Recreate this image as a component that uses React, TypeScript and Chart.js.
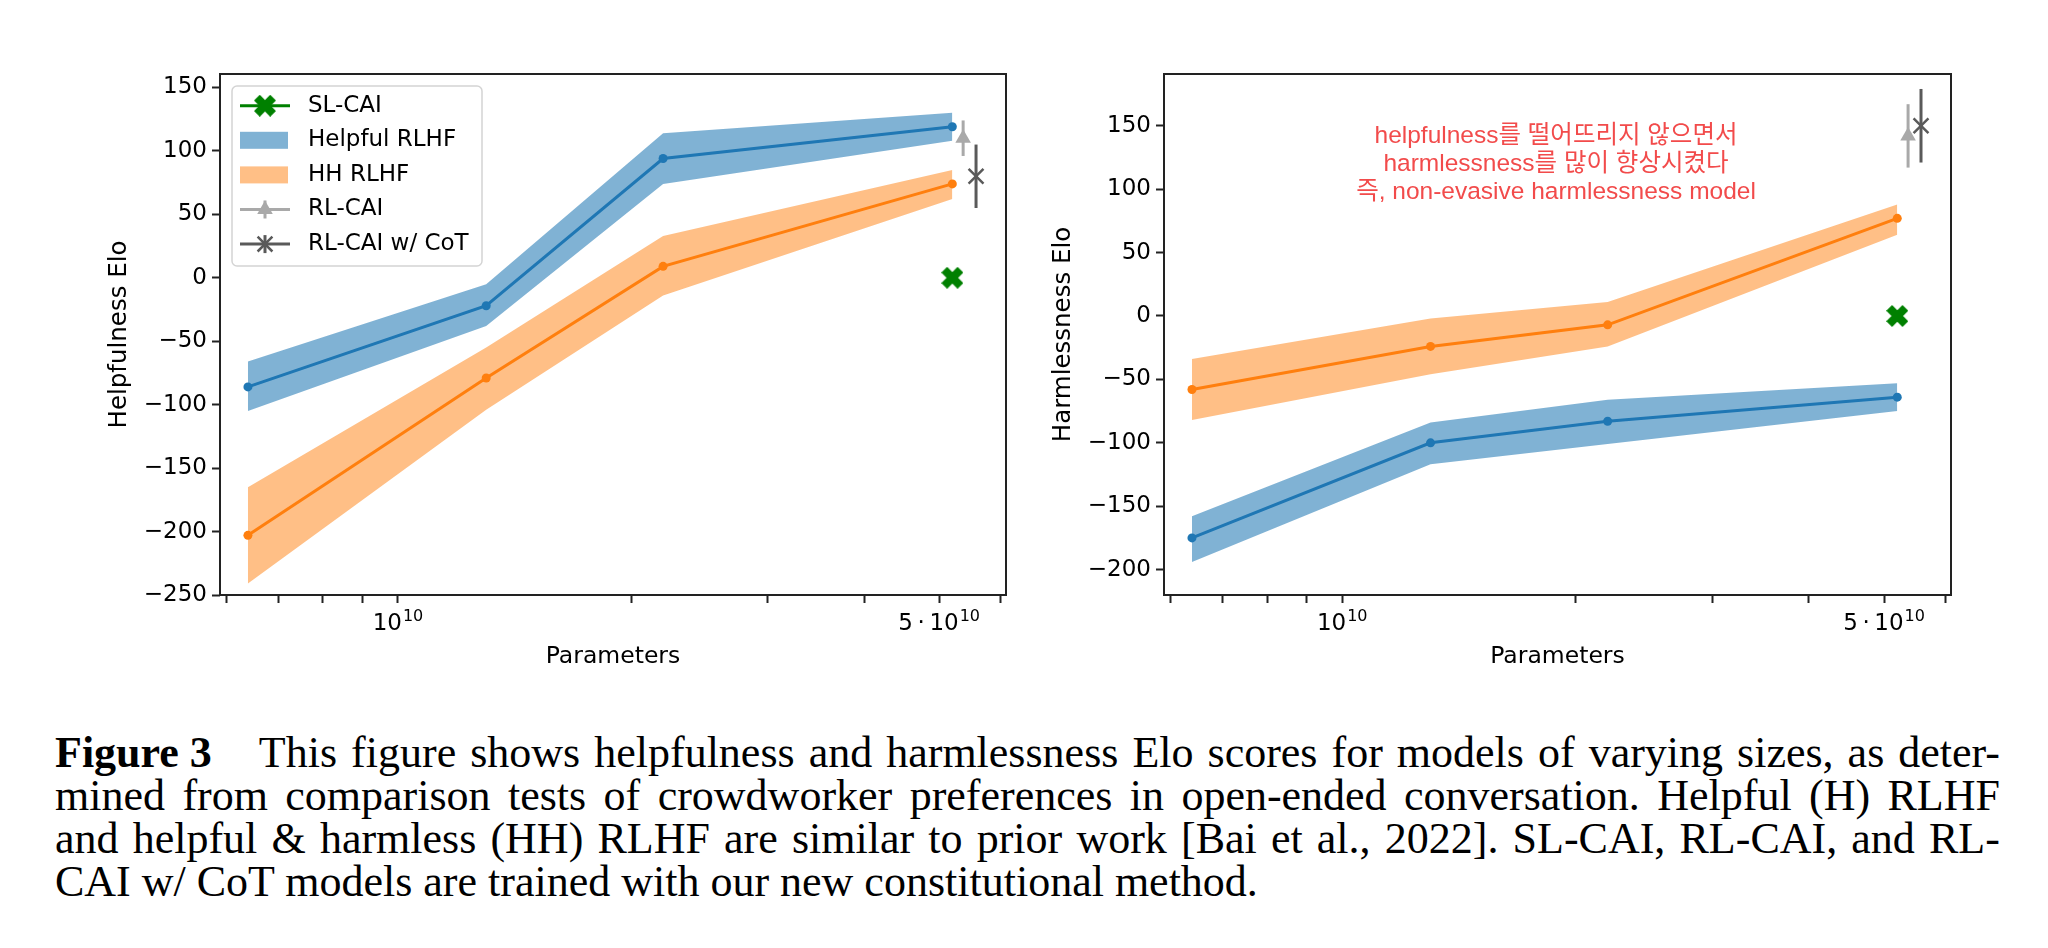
import React, { useEffect, useRef } from "react";
import { Chart, registerables } from "chart.js";

Chart.register(...registerables);

// ---------------- data ----------------
const params = [6.4e9, 1.3e10, 2.2e10, 5.2e10];

const helpfulnessHelpful = [-86, -22, 94, 119];
const helpfulnessHelpfulLow = [-105, -38, 74, 108];
const helpfulnessHelpfulHigh = [-66, -5, 114, 130];
const helpfulnessHH = [-203, -79, 9, 74];
const helpfulnessHHLow = [-241, -104, -14, 62];
const helpfulnessHHHigh = [-165, -55, 33, 85];

const harmlessnessHelpful = [-175, -100, -83, -64];
const harmlessnessHelpfulLow = [-194, -117, -101, -75];
const harmlessnessHelpfulHigh = [-158, -84, -66, -53];
const harmlessnessHH = [-58, -24, -7, 77];
const harmlessnessHHLow = [-82, -46, -24, 64];
const harmlessnessHHHigh = [-34, -2, 11, 88];

// SL-CAI, RL-CAI, RL-CAI w/ CoT
const caiParams = [5.2e10, 5.37e10, 5.58e10];
const caiHelpfulness = [0, 110, 80];
const caiHelpfulnessErr = [0, 14, 25];
const caiHarmlessness = [0, 142, 150];
const caiHarmlessnessErr = [0, 25, 29];

const seriesLabels = ["SL-CAI", "Helpful RLHF", "HH RLHF", "RL-CAI", "RL-CAI w/ CoT"];

const xMinorTicks = [6e9, 7e9, 8e9, 9e9, 2e10, 3e10, 4e10, 6e10];
const xMajorTicks = [1e10, 5e10];
const xMajorBase = ["10", "5\u2009\u00b7\u200910"];
const xMajorExp = ["10", "10"];

const annotationLines = [
  "helpfulness를 떨어뜨리지 않으면서",
  "harmlessness를 많이 향상시켰다",
  "즉, non-evasive harmlessness model",
];

const captionLabel = "Figure 3";
const captionLines = [
  "This figure shows helpfulness and harmlessness Elo scores for models of varying sizes, as deter-",
  "mined from comparison tests of crowdworker preferences in open-ended conversation. Helpful (H) RLHF",
  "and helpful & harmless (HH) RLHF are similar to prior work [Bai et al., 2022]. SL-CAI, RL-CAI, and RL-",
  "CAI w/ CoT models are trained with our new constitutional method.",
];

// ---------------- styles ----------------
const BLUE = "#1f77b4";
const ORANGE = "#ff7f0e";
const BLUE_BAND = "rgba(31,119,180,0.57)";
const ORANGE_BAND = "rgba(255,127,14,0.5)";
const GREEN = "#008000";
const LIGHT_GRAY = "#a9a9a9";
const DARK_GRAY = "#5a5a5a";
const AXIS = "#222222";
const FONT = '"DejaVu Sans", sans-serif';
const X_MIN = 5.89e9;
const X_MAX = 6.1e10;

Chart.defaults.font.family = FONT;
Chart.defaults.color = "#000";

function makeXMarker(size: number, color: string) {
  const c = document.createElement("canvas");
  c.width = size;
  c.height = size;
  const ctx = c.getContext("2d")!;
  const h = size / 2;
  const t = 0.36;
  const pts = [
    [t, t], [t, 1], [-t, 1], [-t, t], [-1, t], [-1, -t],
    [-t, -t], [-t, -1], [t, -1], [t, -t], [1, -t], [1, t],
  ];
  const s = (h * Math.SQRT2) / (1 + t);
  ctx.translate(h, h);
  ctx.rotate(Math.PI / 4);
  ctx.beginPath();
  pts.forEach(([x, y], i) => (i ? ctx.lineTo(x * s, y * s) : ctx.moveTo(x * s, y * s)));
  ctx.closePath();
  ctx.fillStyle = color;
  ctx.fill();
  return c;
}

type PanelSpec = {
  helpful: number[];
  helpfulLow: number[];
  helpfulHigh: number[];
  hh: number[];
  hhLow: number[];
  hhHigh: number[];
  cai: number[];
  caiErr: number[];
  yMin: number;
  yMax: number;
  yTitle: string;
  yTitlePad: number;
  axisWidth: number;
  padRight: number;
  legend: boolean;
  annotation: boolean;
};

const framePlugin = {
  id: "frame",
  afterDatasetsDraw(chart: any) {
    const { ctx, chartArea: a } = chart;
    ctx.save();
    ctx.strokeStyle = AXIS;
    ctx.lineWidth = 2;
    ctx.strokeRect(a.left, a.top, a.right - a.left, a.bottom - a.top);
    ctx.restore();
  },
};

const xLabelPlugin = {
  id: "xSupLabels",
  afterDraw(chart: any) {
    const { ctx, chartArea: a } = chart;
    const xs = chart.scales.x;
    ctx.save();
    ctx.fillStyle = "#000";
    ctx.textBaseline = "alphabetic";
    ctx.textAlign = "left";
    xMajorTicks.forEach((v, i) => {
      const px = xs.getPixelForValue(v);
      ctx.font = `23px ${FONT}`;
      const wb = ctx.measureText(xMajorBase[i]).width;
      ctx.font = `16px ${FONT}`;
      const we = ctx.measureText(xMajorExp[i]).width;
      const x0 = px - (wb + we + 1) / 2;
      ctx.font = `23px ${FONT}`;
      ctx.fillText(xMajorBase[i], x0, a.bottom + 35);
      ctx.font = `16px ${FONT}`;
      ctx.fillText(xMajorExp[i], x0 + wb + 1, a.bottom + 26);
    });
    ctx.restore();
  },
};

function makeLegendPlugin(xMarker: HTMLCanvasElement) {
  return {
    id: "mplLegend",
    afterDraw(chart: any) {
      const ctx = chart.ctx;
      const a = chart.chartArea;
      const bx = a.left + 12, by = a.top + 12, bw = 250, bh = 180;
      ctx.save();
      ctx.beginPath();
      ctx.roundRect(bx, by, bw, bh, 5);
      ctx.fillStyle = "rgba(255,255,255,0.8)";
      ctx.fill();
      ctx.strokeStyle = "#d4d4d4";
      ctx.lineWidth = 1.5;
      ctx.stroke();
      const x0 = bx + 8, x1 = bx + 58, xc = (x0 + x1) / 2, tx = bx + 76;
      const rowY = (i: number) => by + 19.7 + i * 34.6;
      const hline = (y: number, color: string) => {
        ctx.beginPath();
        ctx.moveTo(x0, y);
        ctx.lineTo(x1, y);
        ctx.strokeStyle = color;
        ctx.lineWidth = 3;
        ctx.stroke();
      };
      const vline = (y: number, color: string) => {
        ctx.beginPath();
        ctx.moveTo(xc, y - 9);
        ctx.lineTo(xc, y + 9);
        ctx.strokeStyle = color;
        ctx.lineWidth = 3;
        ctx.stroke();
      };
      // SL-CAI
      let y = rowY(0);
      hline(y, GREEN);
      ctx.drawImage(xMarker, xc - xMarker.width / 2, y - xMarker.height / 2);
      // Helpful RLHF
      y = rowY(1);
      ctx.fillStyle = BLUE_BAND;
      ctx.fillRect(x0, y - 8.5, x1 - x0 - 2, 17);
      // HH RLHF
      y = rowY(2);
      ctx.fillStyle = ORANGE_BAND;
      ctx.fillRect(x0, y - 8.5, x1 - x0 - 2, 17);
      // RL-CAI
      y = rowY(3);
      hline(y, LIGHT_GRAY);
      vline(y, LIGHT_GRAY);
      const r = 9;
      ctx.beginPath();
      for (let k = 0; k < 3; k++) {
        const ang = (k * 2 * Math.PI) / 3;
        const px = xc + Math.sin(ang) * r, py = y - Math.cos(ang) * r;
        k ? ctx.lineTo(px, py) : ctx.moveTo(px, py);
      }
      ctx.closePath();
      ctx.fillStyle = LIGHT_GRAY;
      ctx.fill();
      // RL-CAI w/ CoT
      y = rowY(4);
      hline(y, DARK_GRAY);
      vline(y, DARK_GRAY);
      const d = 7.4;
      ctx.beginPath();
      ctx.moveTo(xc - d, y - d);
      ctx.lineTo(xc + d, y + d);
      ctx.moveTo(xc - d, y + d);
      ctx.lineTo(xc + d, y - d);
      ctx.strokeStyle = DARK_GRAY;
      ctx.lineWidth = 2.5;
      ctx.stroke();
      // labels
      ctx.fillStyle = "#000";
      ctx.font = `23px ${FONT}`;
      ctx.textBaseline = "middle";
      ctx.textAlign = "left";
      seriesLabels.forEach((lab, i) => ctx.fillText(lab, tx, rowY(i)));
      ctx.restore();
    },
  };
}

const annotationPlugin = {
  id: "annotationText",
  afterDraw(chart: any) {
    const { ctx, chartArea: a } = chart;
    ctx.save();
    ctx.fillStyle = "#f24b4b";
    ctx.font = '24.5px "Liberation Sans", "Noto Sans CJK KR", sans-serif';
    ctx.textAlign = "center";
    ctx.textBaseline = "middle";
    annotationLines.forEach((line, i) => {
      ctx.fillText(line, a.left + 392, a.top + 62.5 + i * 27.7);
    });
    ctx.restore();
  },
};

function buildConfig(spec: PanelSpec, xMarker: HTMLCanvasElement): any {
  const pts = (ys: number[]) => params.map((x, i) => ({ x, y: ys[i] }));
  const band = (ys: number[], color: string, fill: any) => ({
    data: pts(ys),
    borderColor: "transparent",
    borderWidth: 0,
    pointRadius: 0,
    pointHoverRadius: 0,
    backgroundColor: color,
    fill,
    order: 5,
  });
  const errBar = (i: number, color: string) => ({
    label: seriesLabels[i] + " error",
    data: [
      { x: caiParams[i], y: spec.cai[i] - spec.caiErr[i] },
      { x: caiParams[i], y: spec.cai[i] + spec.caiErr[i] },
    ],
    borderColor: color,
    borderWidth: 3,
    pointRadius: 0,
    fill: false,
    order: 1,
  });
  const plugins: any[] = [framePlugin, xLabelPlugin];
  if (spec.legend) plugins.push(makeLegendPlugin(xMarker));
  if (spec.annotation) plugins.push(annotationPlugin);
  return {
    type: "line",
    data: {
      datasets: [
        { label: "Helpful RLHF upper", ...band(spec.helpfulHigh, BLUE_BAND, "+1") },
        { label: "Helpful RLHF lower", ...band(spec.helpfulLow, BLUE_BAND, false) },
        { label: "HH RLHF upper", ...band(spec.hhHigh, ORANGE_BAND, "+1") },
        { label: "HH RLHF lower", ...band(spec.hhLow, ORANGE_BAND, false) },
        {
          label: seriesLabels[1],
          data: pts(spec.helpful),
          borderColor: BLUE,
          backgroundColor: BLUE,
          pointBackgroundColor: BLUE,
          borderWidth: 3,
          pointRadius: 4.5,
          pointBorderWidth: 0,
          fill: false,
          order: 2,
        },
        {
          label: seriesLabels[2],
          data: pts(spec.hh),
          borderColor: ORANGE,
          backgroundColor: ORANGE,
          pointBackgroundColor: ORANGE,
          borderWidth: 3,
          pointRadius: 4.5,
          pointBorderWidth: 0,
          fill: false,
          order: 2,
        },
        {
          label: seriesLabels[0],
          data: [{ x: caiParams[0], y: spec.cai[0] }],
          showLine: false,
          pointStyle: xMarker,
          pointRadius: 11,
          order: 0,
        },
        errBar(1, LIGHT_GRAY),
        {
          label: seriesLabels[3],
          data: [{ x: caiParams[1], y: spec.cai[1] }],
          showLine: false,
          pointStyle: "triangle",
          pointRadius: 9,
          pointBackgroundColor: LIGHT_GRAY,
          pointBorderColor: LIGHT_GRAY,
          pointBorderWidth: 0,
          order: 0,
        },
        errBar(2, DARK_GRAY),
        {
          label: seriesLabels[4],
          data: [{ x: caiParams[2], y: spec.cai[2] }],
          showLine: false,
          pointStyle: "crossRot",
          pointRadius: 10.5,
          pointBorderColor: DARK_GRAY,
          pointBorderWidth: 2.5,
          order: 0,
        },
      ],
    },
    options: {
      animation: false,
      responsive: true,
      maintainAspectRatio: false,
      events: [],
      layout: { padding: { top: 74, right: spec.padRight, bottom: 0, left: 0 } },
      plugins: {
        legend: { display: false },
        tooltip: { enabled: false },
      },
      scales: {
        x: {
          type: "logarithmic",
          min: X_MIN,
          max: X_MAX,
          afterBuildTicks: (axis: any) => {
            axis.ticks = [...xMinorTicks, ...xMajorTicks]
              .sort((p, q) => p - q)
              .map((v) => ({ value: v }));
          },
          ticks: { autoSkip: false, maxRotation: 0, callback: () => "" },
          grid: {
            drawOnChartArea: false,
            drawTicks: true,
            tickLength: 8,
            tickWidth: 2,
            tickColor: AXIS,
          },
          border: { display: false },
          title: {
            display: true,
            text: "Parameters",
            color: "#000",
            font: { size: 23.5, family: FONT },
            padding: { top: 0, bottom: 49 },
          },
          afterFit: (axis: any) => {
            axis.height = 125;
          },
        },
        y: {
          min: spec.yMin,
          max: spec.yMax,
          ticks: {
            stepSize: 50,
            includeBounds: false,
            color: "#000",
            font: { size: 23, family: FONT },
            padding: 5,
            callback: (v: any) => (Number(v) < 0 ? "\u2212" + Math.abs(Number(v)) : String(v)),
          },
          grid: {
            drawOnChartArea: false,
            drawTicks: true,
            tickLength: 8,
            tickWidth: 2,
            tickColor: AXIS,
          },
          border: { display: false },
          title: {
            display: true,
            text: spec.yTitle,
            color: "#000",
            font: { size: 24.5, family: FONT },
            padding: { top: spec.yTitlePad, bottom: 0 },
          },
          afterFit: (axis: any) => {
            axis.width = spec.axisWidth;
          },
        },
      },
    },
    plugins,
  };
}

const helpfulnessSpec: PanelSpec = {
  helpful: helpfulnessHelpful,
  helpfulLow: helpfulnessHelpfulLow,
  helpfulHigh: helpfulnessHelpfulHigh,
  hh: helpfulnessHH,
  hhLow: helpfulnessHHLow,
  hhHigh: helpfulnessHHHigh,
  cai: caiHelpfulness,
  caiErr: caiHelpfulnessErr,
  yMin: -250,
  yMax: 160.6,
  yTitle: "Helpfulness Elo",
  yTitlePad: 104.8,
  axisWidth: 220,
  padRight: 34,
  legend: true,
  annotation: false,
};

const harmlessnessSpec: PanelSpec = {
  helpful: harmlessnessHelpful,
  helpfulLow: harmlessnessHelpfulLow,
  helpfulHigh: harmlessnessHelpfulHigh,
  hh: harmlessnessHH,
  hhLow: harmlessnessHHLow,
  hhHigh: harmlessnessHHHigh,
  cai: caiHarmlessness,
  caiErr: caiHarmlessnessErr,
  yMin: -220,
  yMax: 190.8,
  yTitle: "Harmlessness Elo",
  yTitlePad: 9,
  axisWidth: 124,
  padRight: 97,
  legend: false,
  annotation: true,
};

function Panel({ spec, left, width }: { spec: PanelSpec; left: number; width: number }) {
  const ref = useRef<HTMLCanvasElement | null>(null);
  useEffect(() => {
    if (!ref.current) return;
    const marker = makeXMarker(22, GREEN);
    const chart = new Chart(ref.current, buildConfig(spec, marker));
    return () => chart.destroy();
  }, [spec]);
  return (
    <div style={{ position: "absolute", left, top: 0, width, height: 720 }}>
      <canvas ref={ref} />
    </div>
  );
}

function Caption() {
  const LH = 43;
  return (
    <div
      style={{
        position: "absolute",
        left: 55,
        top: 731,
        width: 1945,
        fontFamily: '"Liberation Serif", "Times New Roman", serif',
        fontSize: 44,
        lineHeight: `${LH}px`,
        color: "#000",
      }}
    >
      {captionLines.map((line, i) => {
        const last = i === captionLines.length - 1;
        if (last) {
          return (
            <div key={i} style={{ whiteSpace: "nowrap", height: LH }}>
              {line}
            </div>
          );
        }
        const words = line.split(" ");
        return (
          <div
            key={i}
            style={{
              display: "flex",
              justifyContent: "space-between",
              whiteSpace: "nowrap",
              height: LH,
            }}
          >
            {i === 0 && (
              <span style={{ fontWeight: "bold", marginRight: 33 }}>{captionLabel}</span>
            )}
            {words.map((w, k) => (
              <span key={k}>{w}</span>
            ))}
          </div>
        );
      })}
    </div>
  );
}

export default function App() {
  return (
    <div
      style={{
        position: "absolute",
        left: 0,
        top: 0,
        width: 2048,
        height: 948,
        background: "#fff",
        overflow: "hidden",
      }}
    >
      <Panel spec={helpfulnessSpec} left={0} width={1040} />
      <Panel spec={harmlessnessSpec} left={1040} width={1008} />
      <Caption />
    </div>
  );
}
